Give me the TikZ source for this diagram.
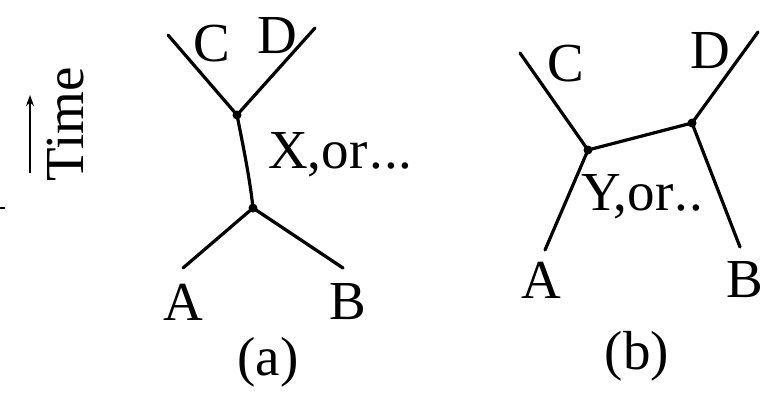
\documentclass[tikz,border=0pt]{standalone}
\usepackage{fontspec}
\setmainfont{Liberation Serif}
\usetikzlibrary{arrows.meta}
\begin{document}
\begin{tikzpicture}[x=1pt,y=-1pt,
  line/.style={line width=3.2pt,line cap=round},
  vtx/.style={circle,fill=black,inner sep=0pt,minimum size=9pt},
  lbl/.style={inner sep=0pt,font=\fontsize{55}{60}\selectfont}]
\useasboundingbox (0,0) rectangle (774,392);
% panel (a)
\coordinate (aC) at (168,35);
\coordinate (aD) at (315,28);
\coordinate (aA) at (183,268);
\coordinate (aB) at (343,268);
\node[vtx] (a1) at (237,115) {};
\node[vtx] (a2) at (253,208) {};
\draw[line] (aC) -- (a1.center) -- (aD);
\draw[line] (a1.center) .. controls (244,150) and (250,180) .. (a2.center);
\draw[line] (aA) -- (a2.center) -- (aB);
\node[lbl] (lC) at (212,44) {C};
\node[lbl] (lD) at (277,36) {D};
\node[lbl] (lA) at (183,302) {A};
\node[lbl] (lB) at (348,302) {B};
\node[lbl,anchor=base west] (lX) at (268,168) {X,or\kern2pt.\kern1pt.\kern1pt.};
\node[lbl] (la) at (268,362) {(a)};
% time arrow
\coordinate (t0) at (30,173);
\coordinate (t1) at (30,95);
\draw[line width=2.4pt,-{Stealth[length=11pt,width=8pt]}] (t0) -- (t1);
\node[lbl,rotate=90] (time) at (66,124) {Time};
\coordinate (m0) at (0,208);
\coordinate (m1) at (5,208);
\draw[line width=1.5pt] (m0) -- (m1);
% panel (b)
\coordinate (bC) at (520,53);
\coordinate (bD) at (758,32);
\coordinate (bA) at (545,250);
\coordinate (bB) at (740,247);
\node[vtx] (b1) at (588,150) {};
\node[vtx] (b2) at (692,123) {};
\draw[line] (bC) -- (b1.center) -- (b2.center) -- (bD);
\draw[line] (bA) -- (b1.center);
\draw[line] (b2.center) -- (bB);
\node[lbl] (mC) at (566,64) {C};
\node[lbl] (mD) at (710,51) {D};
\node[lbl] (mA) at (541,280) {A};
\node[lbl] (mB) at (745,280) {B};
\node[lbl,anchor=base west] (lY) at (581,210) {Y,or\kern1pt.\kern1pt.};
\node[lbl] (lb) at (637,356) {(b)};
\end{tikzpicture}
\end{document}
